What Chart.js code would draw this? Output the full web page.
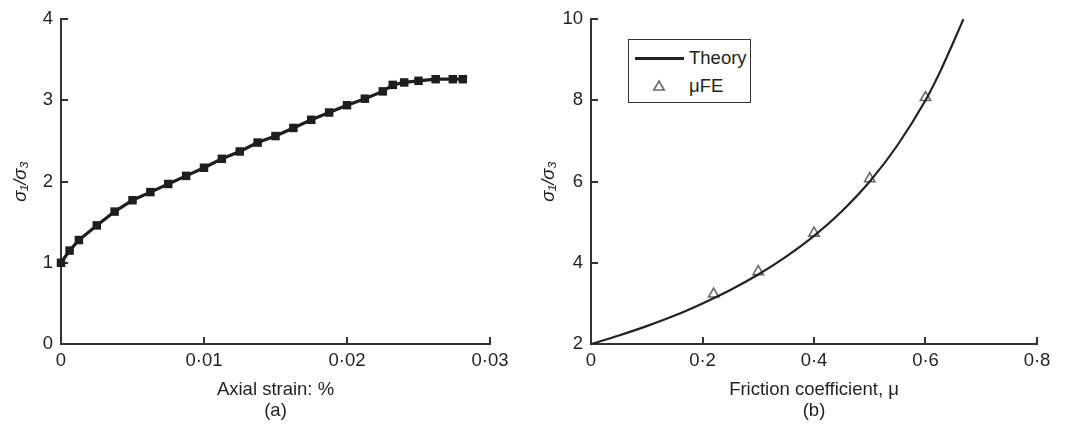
<!DOCTYPE html>
<html>
<head>
<meta charset="utf-8">
<script src="https://cdn.jsdelivr.net/npm/chart.js@4.4.1/dist/chart.umd.min.js"></script>
<style>
  html, body { margin:0; padding:0; background:#fff; }
  body { width:1067px; height:430px; position:relative; overflow:hidden; font-family:'Liberation Sans', Arial, sans-serif; }
  .panel { position:absolute; top:0; height:430px; }
  #panelA { left:0; width:530px; }
  #panelB { left:530px; width:537px; }
  .legend { position:absolute; left:98px; top:39px; width:121px; height:62px; border:1.5px solid #333; background:#fff; }
  .legend .row { position:absolute; left:0; height:28px; width:121px; }
  .legend canvas { position:absolute; left:0; top:0; }
  .legend span { position:absolute; left:60px; top:0; line-height:28px; font-size:18.5px; color:#231f20; }
</style>
</head>
<body>
<div class="panel" id="panelA"><canvas id="chartA" width="530" height="430"></canvas></div>
<div class="panel" id="panelB"><canvas id="chartB" width="537" height="430"></canvas><div class="legend" id="legendB"></div></div>
<script>
// (a) axial strain vs principal stress ratio
const strain = [0, 0.0006, 0.00125, 0.0025, 0.00375, 0.005, 0.00625, 0.0075, 0.00875, 0.01,
  0.01125, 0.0125, 0.01375, 0.015, 0.01625, 0.0175, 0.01875, 0.02,
  0.02125, 0.0225, 0.0232, 0.024, 0.025, 0.0262, 0.0274, 0.0281];
const ratioA = [1.0, 1.15, 1.28, 1.46, 1.63, 1.77, 1.87, 1.97, 2.07, 2.17,
  2.28, 2.37, 2.48, 2.56, 2.66, 2.76, 2.85, 2.94,
  3.02, 3.11, 3.19, 3.22, 3.24, 3.26, 3.26, 3.26];
const strainTicks = [0, 0.01, 0.02, 0.03];
const ratioTicksA = [0, 1, 2, 3, 4];

// (b) friction coefficient vs stress ratio
const muTheory = [0, 0.05, 0.1, 0.15, 0.2, 0.25, 0.3, 0.35, 0.4, 0.45, 0.5, 0.55, 0.6, 0.625, 0.65, 0.668];
const ratioTheory = [2, 2.21, 2.44, 2.7, 3.0, 3.33, 3.71, 4.15, 4.66, 5.27, 6.0, 6.9, 8.0, 8.67, 9.43, 10];
const muFE = [0.22, 0.3, 0.4, 0.5, 0.6];
const ratioFE = [3.23, 3.78, 4.73, 6.07, 8.07];
const muTicks = [0, 0.2, 0.4, 0.6, 0.8];
const ratioTicksB = [2, 4, 6, 8, 10];

const ink = '#231f20';
const axisColor = '#333';
const font = { family: "'Liberation Sans', Arial, sans-serif", size: 18.5 };

const fmt = (v) => String(Number(v.toFixed(3))).replace('.', '·');
const pts = (xs, ys) => xs.map((x, i) => ({ x, y: ys[i] }));

// tick marks that point into the plot, drawn from the scale positions
const innerTicks = {
  id: 'innerTicks',
  beforeDatasetsDraw(chart) {
    const { ctx, chartArea, scales } = chart;
    const len = 7;
    ctx.save();
    ctx.strokeStyle = axisColor;
    ctx.lineWidth = 2;
    scales.x.ticks.forEach((t, i) => {
      const px = Math.round(scales.x.getPixelForTick(i));
      ctx.beginPath();
      ctx.moveTo(px, chartArea.bottom);
      ctx.lineTo(px, chartArea.bottom - len);
      ctx.stroke();
    });
    scales.y.ticks.forEach((t, i) => {
      const py = Math.round(scales.y.getPixelForTick(i));
      ctx.beginPath();
      ctx.moveTo(chartArea.left, py);
      ctx.lineTo(chartArea.left + len, py);
      ctx.stroke();
    });
    ctx.restore();
  }
};

function scales(opts) {
  return {
    x: {
      type: 'linear', min: opts.xMin, max: opts.xMax,
      afterBuildTicks: (s) => { s.ticks = opts.xTicks.map(v => ({ value: v })); },
      afterFit: (s) => { s.height = 86; },
      grid: { display: false, drawTicks: false },
      border: { display: true, color: axisColor, width: 2 },
      ticks: { padding: 6, color: ink, font, maxRotation: 0, autoSkip: false, callback: fmt },
      title: { display: true, text: opts.xTitle, color: ink, font: { ...font, lineHeight: 1.15 }, padding: { top: 4, bottom: 8 } }
    },
    y: {
      type: 'linear', min: opts.yMin, max: opts.yMax,
      afterBuildTicks: (s) => { s.ticks = opts.yTicks.map(v => ({ value: v })); },
      afterFit: (s) => { s.width = 61; },
      grid: { display: false, drawTicks: false },
      border: { display: true, color: axisColor, width: 2 },
      ticks: { padding: 8, color: ink, font, callback: fmt },
      title: { display: true, text: 'σ₁/σ₃', color: ink, font: { ...font, style: 'italic' }, padding: { top: opts.yTitlePad, bottom: 0 } }
    }
  };
}

const common = {
  responsive: false,
  animation: false,
  devicePixelRatio: 1,
  plugins: { legend: { display: false }, tooltip: { enabled: false } }
};

new Chart(document.getElementById('chartA'), {
  type: 'line',
  data: {
    datasets: [{
      label: 'Test',
      data: pts(strain, ratioA),
      borderColor: '#1e1e1e', borderWidth: 3.2, tension: 0,
      pointStyle: 'rect', pointRadius: 6,
      pointBackgroundColor: '#1e1e1e', pointBorderWidth: 0,
      clip: false
    }]
  },
  options: {
    ...common,
    layout: { padding: { top: 16, right: 40, left: 0, bottom: 0 } },
    scales: scales({ xMin: 0, xMax: 0.03, xTicks: strainTicks, yMin: 0, yMax: 4, yTicks: ratioTicksA,
      xTitle: ['Axial strain: %', '(a)'], yTitlePad: 10 })
  },
  plugins: [innerTicks]
});

const chartB = new Chart(document.getElementById('chartB'), {
  type: 'line',
  data: {
    datasets: [{
      label: 'Theory',
      data: pts(muTheory, ratioTheory),
      borderColor: '#222', borderWidth: 2.2,
      cubicInterpolationMode: 'monotone',
      pointRadius: 0, clip: false
    }, {
      label: 'μFE',
      data: pts(muFE, ratioFE),
      showLine: false,
      pointStyle: 'triangle', pointRadius: 6,
      pointBorderColor: '#6a6a6a', pointBackgroundColor: 'rgba(0,0,0,0)', pointBorderWidth: 1.6,
      clip: false
    }]
  },
  options: {
    ...common,
    layout: { padding: { top: 15, right: 30, left: 0, bottom: 0 } },
    scales: scales({ xMin: 0, xMax: 0.8, xTicks: muTicks, yMin: 2, yMax: 10, yTicks: ratioTicksB,
      xTitle: ['Friction coefficient, μ', '(b)'], yTitlePad: 8 })
  },
  plugins: [innerTicks]
});

// framed legend in the upper left of panel (b)
function buildLegend(chart, host) {
  chart.data.datasets.forEach((ds, i) => {
    const row = document.createElement('div');
    row.className = 'row';
    row.style.top = (4 + i * 28) + 'px';
    const c = document.createElement('canvas');
    c.width = 58; c.height = 28;
    const ctx = c.getContext('2d');
    if (ds.showLine === false) {
      ctx.strokeStyle = ds.pointBorderColor;
      ctx.fillStyle = ds.pointBackgroundColor;
      ctx.lineWidth = ds.pointBorderWidth;
      Chart.helpers.drawPoint(ctx, { pointStyle: ds.pointStyle, radius: ds.pointRadius, borderWidth: ds.pointBorderWidth }, 30, 15);
    } else {
      ctx.strokeStyle = ds.borderColor;
      ctx.lineWidth = 3;
      ctx.beginPath();
      ctx.moveTo(6, 14.5);
      ctx.lineTo(55, 14.5);
      ctx.stroke();
    }
    row.appendChild(c);
    const txt = document.createElement('span');
    txt.textContent = ds.label;
    row.appendChild(txt);
    host.appendChild(row);
  });
}
buildLegend(chartB, document.getElementById('legendB'));
</script>
</body>
</html>
